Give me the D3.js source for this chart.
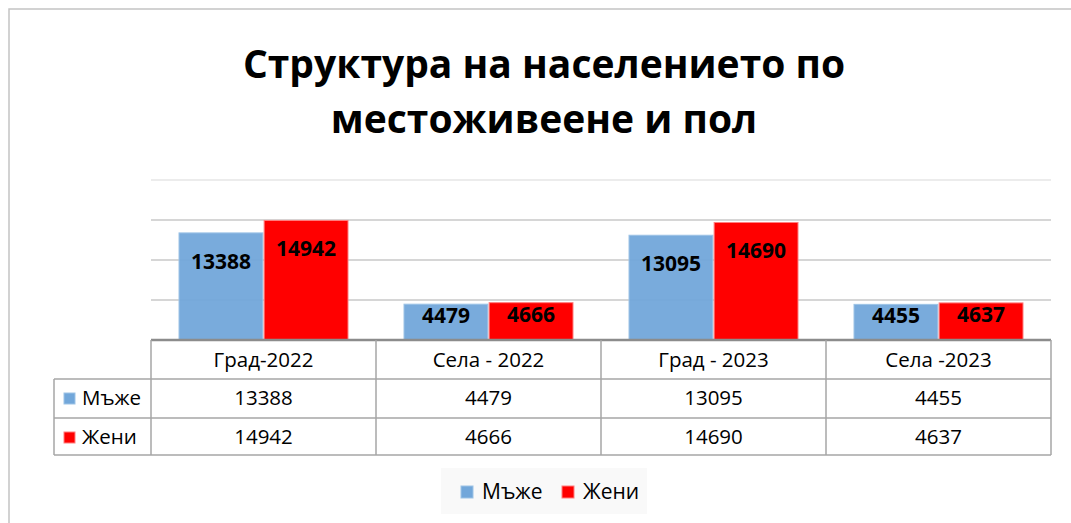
<!DOCTYPE html>
<html>
<head>
<meta charset="utf-8">
<script src="https://cdn.jsdelivr.net/npm/d3@7"></script>
<style>
  body { margin: 0; background: #fff; }
  svg { display: block; font-family: "Open Sans", sans-serif; }
</style>
</head>
<body>
<div id="chart"></div>
<script>
// Data
const categories = ['Град-2022', 'Села - 2022', 'Град - 2023', 'Села -2023'];
const seriesNames = ['Мъже', 'Жени'];
const men = [13388, 4479, 13095, 4455];
const women = [14942, 4666, 14690, 4637];
const yTicks = [5000, 10000, 15000, 20000];
const titleLines = ['Структура на населението по', 'местоживеене и пол'];

const colors = { 'Мъже': '#72a7da', 'Жени': '#ff0000' };
const strokes = { 'Мъже': '#9dc3e6', 'Жени': '#ff7f7f' };

const width = 1071, height = 523;
const plot = { left: 151, right: 1051, top: 180, bottom: 340 };
const rowH = [39, 39, 37];

const svg = d3.select('#chart').append('svg')
  .attr('width', width)
  .attr('height', height);

// Outer frame (runs off the right/bottom edge)
svg.append('rect')
  .attr('x', 9).attr('y', 9)
  .attr('width', 1100).attr('height', 600)
  .attr('fill', '#fff')
  .attr('stroke', '#c4c4c4')
  .attr('stroke-width', 1.5);

// Title
svg.append('text')
  .attr('x', 544)
  .attr('text-anchor', 'middle')
  .attr('font-weight', 'bold')
  .attr('font-size', '39px')
  .attr('fill', '#000')
  .selectAll('tspan')
  .data(titleLines)
  .enter()
  .append('tspan')
  .attr('x', 544)
  .attr('y', (d, i) => 78 + i * 55)
  .text(d => d);

// Scales
const x0 = d3.scaleBand()
  .domain(categories)
  .range([plot.left, plot.right]);

const x1 = d3.scaleBand()
  .domain(seriesNames)
  .range([28, x0.bandwidth() - 28])
  .paddingInner(0.015);

const y = d3.scaleLinear()
  .domain([0, 20000])
  .range([plot.bottom, plot.top]);

// Grid lines
svg.append('g')
  .selectAll('line')
  .data(yTicks)
  .enter()
  .append('line')
  .attr('x1', plot.left)
  .attr('x2', plot.right)
  .attr('y1', d => y(d))
  .attr('y2', d => y(d))
  .attr('stroke', d => d === 20000 ? '#e6e6e6' : '#c8c8c8')
  .attr('stroke-width', 1.5);

// Bars
const rows = categories.map((c, i) => ({ cat: c, values: [
  { name: 'Мъже', value: men[i] },
  { name: 'Жени', value: women[i] }
] }));

const groups = svg.append('g')
  .selectAll('g')
  .data(rows)
  .enter()
  .append('g')
  .attr('transform', d => `translate(${x0(d.cat)},0)`);

groups.selectAll('rect')
  .data(d => d.values)
  .enter()
  .append('rect')
  .attr('x', d => x1(d.name))
  .attr('y', d => y(d.value))
  .attr('width', x1.bandwidth())
  .attr('height', d => y(0) - y(d.value))
  .attr('fill', d => colors[d.name])
  .attr('fill-opacity', d => d.name === 'Мъже' ? 0.95 : 1)
  .attr('stroke', d => strokes[d.name])
  .attr('stroke-width', 1);

// Data labels
groups.selectAll('text')
  .data(d => d.values)
  .enter()
  .append('text')
  .attr('x', d => x1(d.name) + x1.bandwidth() / 2)
  .attr('y', d => y(d.value) + (d.value > 10000 ? 36 : 19))
  .attr('text-anchor', 'middle')
  .attr('font-weight', 'bold')
  .attr('font-size', '21px')
  .attr('fill', '#000')
  .text(d => d.value);

// Data table
const table = svg.append('g');
const gridColor = '#a6a6a6';
const rowY = [plot.bottom, plot.bottom + rowH[0], plot.bottom + rowH[0] + rowH[1], plot.bottom + rowH[0] + rowH[1] + rowH[2]];
const legendLeft = 54;

// horizontal lines
table.append('line')
  .attr('x1', plot.left).attr('x2', plot.right)
  .attr('y1', rowY[0]).attr('y2', rowY[0])
  .attr('stroke', '#8c8c8c').attr('stroke-width', 2.5);
rowY.slice(1).forEach(yy => {
  table.append('line')
    .attr('x1', legendLeft).attr('x2', plot.right)
    .attr('y1', yy).attr('y2', yy)
    .attr('stroke', gridColor).attr('stroke-width', 1.5);
});

// vertical lines
const colEdges = categories.map(c => x0(c)).concat([plot.right]);
colEdges.forEach(xx => {
  table.append('line')
    .attr('x1', xx).attr('x2', xx)
    .attr('y1', rowY[0]).attr('y2', rowY[3])
    .attr('stroke', gridColor).attr('stroke-width', 1.5);
});
table.append('line')
  .attr('x1', legendLeft).attr('x2', legendLeft)
  .attr('y1', rowY[1]).attr('y2', rowY[3])
  .attr('stroke', gridColor).attr('stroke-width', 1.5);

// header text
table.selectAll('.hdr')
  .data(categories)
  .enter()
  .append('text')
  .attr('class', 'hdr')
  .attr('x', d => x0(d) + x0.bandwidth() / 2)
  .attr('y', rowY[0] + 27)
  .attr('text-anchor', 'middle')
  .attr('font-size', '20.5px')
  .attr('fill', '#000')
  .text(d => d);

// value rows
[men, women].forEach((vals, r) => {
  const name = seriesNames[r];
  table.append('rect')
    .attr('x', 64).attr('y', rowY[r + 1] + 14)
    .attr('width', 11).attr('height', 11)
    .attr('fill', colors[name])
    .attr('stroke', strokes[name]);
  table.append('text')
    .attr('x', 82)
    .attr('y', rowY[r + 1] + 26)
    .attr('font-size', '20.5px')
    .attr('fill', '#000')
    .text(name);
  table.selectAll(`.v${r}`)
    .data(vals)
    .enter()
    .append('text')
    .attr('class', `v${r}`)
    .attr('x', (d, i) => x0(categories[i]) + x0.bandwidth() / 2)
    .attr('y', rowY[r + 1] + 26)
    .attr('text-anchor', 'middle')
    .attr('font-size', '20.5px')
    .attr('fill', '#000')
    .text(d => d);
});

// Bottom legend
const legend = svg.append('g').attr('transform', 'translate(441,468)');
legend.append('rect')
  .attr('width', 206).attr('height', 46)
  .attr('fill', '#f9f9f9');

const legendX = [20, 121];
seriesNames.forEach((name, i) => {
  legend.append('rect')
    .attr('x', legendX[i]).attr('y', 18)
    .attr('width', 12).attr('height', 12)
    .attr('fill', colors[name])
    .attr('stroke', strokes[name]);
  legend.append('text')
    .attr('x', legendX[i] + 21)
    .attr('y', 31)
    .attr('font-size', '21px')
    .attr('fill', '#000')
    .text(name);
});
</script>
</body>
</html>
